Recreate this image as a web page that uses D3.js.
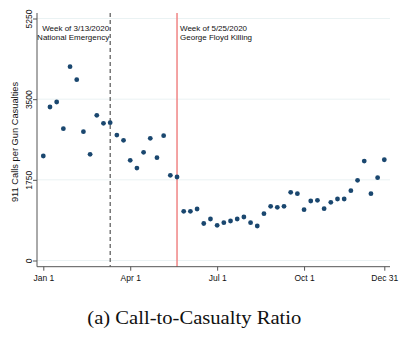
<!DOCTYPE html>
<html>
<head>
<meta charset="utf-8">
<script src="https://cdn.jsdelivr.net/npm/d3@7"></script>
<style>
html,body{margin:0;padding:0;background:#fff;}
svg{display:block;}
</style>
</head>
<body>
<div id="chart"></div>
<script>
// Data: Stata week of year 2020 (1..52) and 911 calls per gun casualty
const weeks = d3.range(1, 53);
const ratio = [2267,3330,3438,2859,4204,3922,2794,2303,3149,2976,
               2989,2722,2607,2173,2006,2347,2651,2230,2707,1848,
               1811,1067,1067,1117,803,900,763,820,857,900,
               944,820,748,1015,1176,1154,1176,1479,1449,1102,
               1291,1306,1124,1262,1334,1334,1514,1740,2158,1449,
               1796,2186];
const yTicks = [0, 1750, 3500, 5250];
const xTickWeeks = [1, 14, 27, 40, 52];
const xTickLabels = ["Jan 1", "Apr 1", "Jul 1", "Oct 1", "Dec 31"];
const events = [
  {week: 11, lines: ["Week of 3/13/2020", "National Emergency"], side: "left"},
  {week: 21, lines: ["Week of 5/25/2020", "George Floyd Killing"], side: "right"}
];
const yTitle = "911 Calls per Gun Casualties";
const caption = "(a) Call-to-Casualty Ratio";

const W = 410, H = 341;
const plotLeft = 37, plotRight = 390, plotTop = 13, plotBottom = 266.7;

const svg = d3.select("#chart").append("svg").attr("width", W).attr("height", H);

const x = d3.scaleLinear().domain([1, 52]).range([43.3, 384.3]);
const y = d3.scaleLinear().domain([0, 5250]).range([260.5, 18.5]);

const font = "'Liberation Sans', Arial, sans-serif";

// gridlines
svg.append("g").selectAll("line").data(yTicks).join("line")
  .attr("x1", plotLeft).attr("x2", plotRight)
  .attr("y1", d => y(d)).attr("y2", d => y(d))
  .attr("stroke", "#eaf2f3").attr("stroke-width", 1);

// event lines
svg.append("line")
  .attr("x1", x(events[0].week)).attr("x2", x(events[0].week))
  .attr("y1", plotTop).attr("y2", plotBottom)
  .attr("stroke", "#333").attr("stroke-width", 1).attr("stroke-dasharray", "4,3");
svg.append("line")
  .attr("x1", x(events[1].week)).attr("x2", x(events[1].week))
  .attr("y1", plotTop).attr("y2", plotBottom)
  .attr("stroke", "#f08585").attr("stroke-width", 1.5);

// annotations
events.forEach(ev => {
  const t = svg.append("text")
    .attr("font-family", font).attr("font-size", 8).attr("fill", "#111")
    .attr("text-anchor", ev.side === "left" ? "end" : "start");
  ev.lines.forEach((ln, i) => {
    t.append("tspan")
      .attr("x", ev.side === "left" ? x(ev.week) - 1 : x(ev.week) + 3)
      .attr("y", 31 + i * 8.5)
      .text(ln);
  });
});

// axes
const yAxis = svg.append("g").attr("transform", `translate(${plotLeft},0)`)
  .call(d3.axisLeft(y).tickValues(yTicks).tickSize(4).tickFormat(d3.format("d")));
yAxis.select(".domain").attr("d", `M0,${plotTop}V${plotBottom}`).attr("stroke", "#555");
yAxis.selectAll(".tick line").attr("stroke", "#555");
yAxis.selectAll(".tick text")
  .attr("x", null).attr("dy", null)
  .attr("transform", "translate(-5.5,0) rotate(-90)")
  .attr("text-anchor", "middle")
  .attr("font-family", font).attr("font-size", 8.5).attr("fill", "#111");

const xAxis = svg.append("g").attr("transform", `translate(0,${plotBottom})`)
  .call(d3.axisBottom(x).tickValues(xTickWeeks).tickSize(4)
    .tickFormat((d, i) => xTickLabels[i]));
xAxis.select(".domain").attr("d", `M${plotLeft},0H${plotRight}`).attr("stroke", "#555");
xAxis.selectAll(".tick line").attr("stroke", "#555");
xAxis.selectAll(".tick text")
  .attr("y", 8).attr("font-family", font).attr("font-size", 8.5).attr("fill", "#111");

// y title
svg.append("text")
  .attr("transform", `translate(17.5,142) rotate(-90)`)
  .attr("text-anchor", "middle")
  .attr("font-family", font).attr("font-size", 9.3).attr("fill", "#111")
  .text(yTitle);

// points
svg.append("g").selectAll("circle").data(weeks).join("circle")
  .attr("cx", d => x(d)).attr("cy", (d, i) => y(ratio[i]))
  .attr("r", 2.4).attr("fill", "#1a476f");

// caption
svg.append("text")
  .attr("x", 87.3).attr("y", 323.5)
  .attr("text-anchor", "start")
  .attr("textLength", 214).attr("lengthAdjust", "spacingAndGlyphs")
  .attr("font-family", "'Liberation Serif', 'DejaVu Serif', serif").attr("font-size", 18)
  .attr("fill", "#111")
  .text(caption);
</script>
</body>
</html>
